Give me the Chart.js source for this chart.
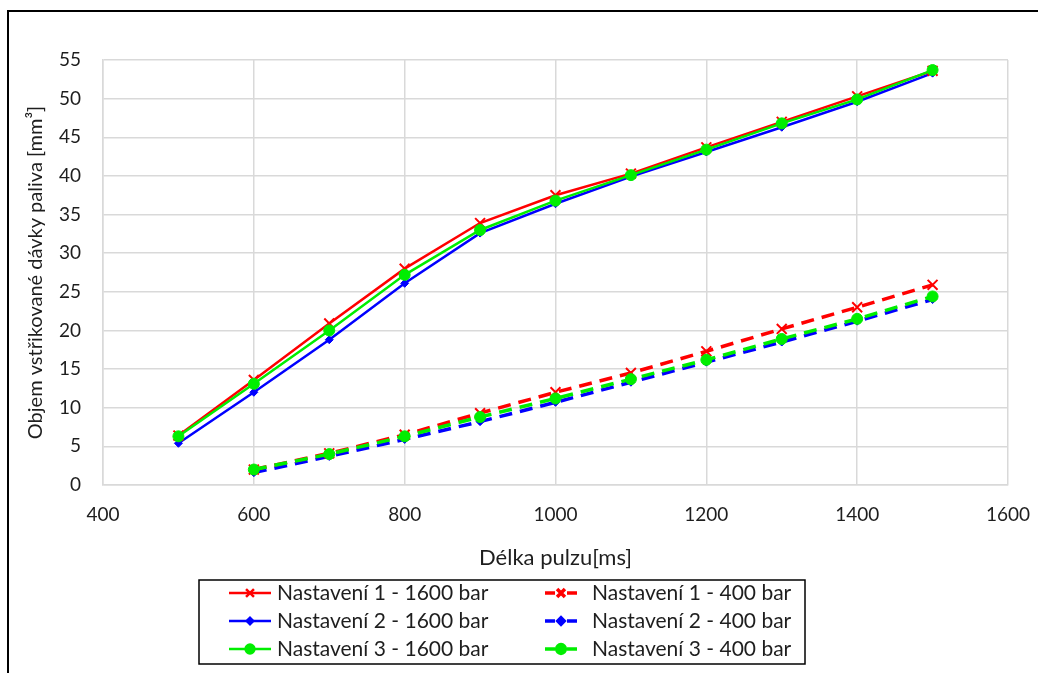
<!DOCTYPE html>
<html>
<head>
<meta charset="utf-8">
<script src="https://cdn.jsdelivr.net/npm/chart.js@4"></script>
<style>
  html, body { margin: 0; padding: 0; background: #fff; }
  canvas { display: block; }
</style>
</head>
<body>
<canvas id="davka-chart" width="1038" height="673"></canvas>
<script>
// pulse lengths [ms]
const pulse1600 = [500, 600, 700, 800, 900, 1000, 1100, 1200, 1300, 1400, 1500];
const pulse400 = [600, 700, 800, 900, 1000, 1100, 1200, 1300, 1400, 1500];

// injected volume [mm3], rail pressure 1600 bar
const nast1_1600 = [6.4, 13.6, 20.9, 28.0, 33.9, 37.5, 40.3, 43.7, 47.0, 50.3, 53.6];
const nast2_1600 = [5.4, 12.0, 18.8, 26.1, 32.6, 36.4, 39.9, 43.1, 46.3, 49.6, 53.3];
const nast3_1600 = [6.3, 13.1, 20.0, 27.2, 33.0, 36.8, 40.1, 43.4, 46.8, 49.9, 53.7];

// injected volume [mm3], rail pressure 400 bar
const nast1_400 = [2.0, 4.1, 6.5, 9.3, 12.0, 14.5, 17.3, 20.2, 23.0, 25.9];
const nast2_400 = [1.6, 3.7, 5.9, 8.2, 10.7, 13.3, 15.9, 18.5, 21.2, 24.0];
const nast3_400 = [2.0, 4.0, 6.3, 8.8, 11.2, 13.7, 16.2, 18.9, 21.5, 24.4];

const xTicks = [400, 600, 800, 1000, 1200, 1400, 1600];
const yTicks = [0, 5, 10, 15, 20, 25, 30, 35, 40, 45, 50, 55];

const RED = "#ff0000", BLUE = "#0000ff", GREEN = "#00ee00";
const FONT = "Lato";
const TEXT = "#1e1e1e";

function pts(xs, ys) {
  return xs.map((x, i) => ({ x: x, y: ys[i] }));
}

const markers = {
  cross:   { pointStyle: "crossRot", pointRadius: 7,   pointBorderWidth: 2 },
  diamond: { pointStyle: "rectRot",  pointRadius: 4,   pointBorderWidth: 1 },
  circle:  { pointStyle: "circle",   pointRadius: 5.5, pointBorderWidth: 1 }
};

function series(label, xs, ys, color, marker, dashed, order) {
  return Object.assign({
    label: label,
    data: pts(xs, ys),
    borderColor: color,
    backgroundColor: color,
    pointBackgroundColor: color,
    pointBorderColor: color,
    borderWidth: dashed ? 3.5 : 2.5,
    borderDash: dashed ? [13, 8] : [],
    tension: 0,
    order: order
  }, markers[marker]);
}

// outer frame of the figure
const framePlugin = {
  id: "frame",
  beforeDraw(chart) {
    const ctx = chart.ctx;
    ctx.save();
    ctx.strokeStyle = "#000";
    ctx.lineWidth = 2;
    ctx.beginPath();
    ctx.moveTo(8, chart.height);
    ctx.lineTo(8, 11);
    ctx.lineTo(chart.width, 11);
    ctx.stroke();
    ctx.restore();
  }
};

// boxed legend, two columns like the Excel one
const boxLegend = {
  id: "boxLegend",
  afterDraw(chart) {
    const ctx = chart.ctx;
    const box = { left: 199, top: 580, width: 606, height: 84 };
    const cols = [
      { sample: 30, len: 42, text: 78 },
      { sample: 346, len: 32, text: 393 }
    ];
    const rowTop = 13, rowH = 28;

    ctx.save();
    ctx.strokeStyle = "#000";
    ctx.lineWidth = 1.5;
    ctx.strokeRect(box.left, box.top, box.width, box.height);

    chart.data.datasets.forEach((ds, i) => {
      const col = cols[i % 2];
      const y = box.top + rowTop + Math.floor(i / 2) * rowH;
      const x0 = box.left + col.sample;
      const x1 = x0 + col.len;

      ctx.strokeStyle = ds.borderColor;
      ctx.fillStyle = ds.backgroundColor;
      ctx.lineWidth = ds.borderWidth;
      ctx.setLineDash(ds.borderDash.length ? [10, 12] : []);
      ctx.beginPath();
      ctx.moveTo(x0, y);
      ctx.lineTo(x1, y);
      ctx.stroke();
      ctx.setLineDash([]);

      Chart.helpers.drawPoint(ctx, {
        pointStyle: ds.pointStyle,
        radius: ds.pointRadius * 0.8,
        borderWidth: ds.pointBorderWidth,
        rotation: 0
      }, (x0 + x1) / 2, y);

      ctx.fillStyle = TEXT;
      ctx.font = "21px " + FONT;
      ctx.textBaseline = "middle";
      ctx.textAlign = "left";
      ctx.fillText(ds.label, box.left + col.text, y);
    });
    ctx.restore();
  }
};

const gridColor = "#d9d9d9";

new Chart(document.getElementById("davka-chart"), {
  type: "line",
  data: {
    datasets: [
      series("Nastavení 1 - 1600 bar", pulse1600, nast1_1600, RED, "cross", false, 1),
      series("Nastavení 1 - 400 bar", pulse400, nast1_400, RED, "cross", true, 1),
      series("Nastavení 2 - 1600 bar", pulse1600, nast2_1600, BLUE, "diamond", false, 2),
      series("Nastavení 2 - 400 bar", pulse400, nast2_400, BLUE, "diamond", true, 2),
      series("Nastavení 3 - 1600 bar", pulse1600, nast3_1600, GREEN, "circle", false, 0),
      series("Nastavení 3 - 400 bar", pulse400, nast3_400, GREEN, "circle", true, 0)
    ]
  },
  options: {
    responsive: false,
    animation: false,
    layout: { padding: { left: 10, top: 60, right: 30, bottom: 102 } },
    plugins: {
      legend: { display: false },
      tooltip: { enabled: false }
    },
    scales: {
      x: {
        type: "linear",
        min: xTicks[0],
        max: xTicks[xTicks.length - 1],
        afterBuildTicks: (scale) => { scale.ticks = xTicks.map(v => ({ value: v })); },
        afterFit: (scale) => { scale.height = 86; },
        grid: { color: gridColor, lineWidth: 1.5, drawTicks: false },
        border: { color: gridColor, width: 1.5 },
        // tall line height pushes the labels down without widening the side padding
        ticks: {
          padding: 0,
          color: TEXT,
          font: { family: FONT, size: 19, lineHeight: 3.15 },
          callback: (v) => String(v)
        },
        title: {
          display: true,
          text: "Délka pulzu[ms]",
          color: TEXT,
          padding: 0,
          font: { family: FONT, size: 22 }
        }
      },
      y: {
        min: yTicks[0],
        max: yTicks[yTicks.length - 1],
        afterBuildTicks: (scale) => { scale.ticks = yTicks.map(v => ({ value: v })); },
        afterFit: (scale) => { scale.width = 93; },
        grid: { color: gridColor, lineWidth: 1.5, drawTicks: false },
        border: { color: gridColor, width: 1.5 },
        ticks: { padding: 22, color: TEXT, font: { family: FONT, size: 19 } },
        title: {
          display: true,
          text: "Objem vstřikované dávky paliva [mm³]",
          color: TEXT,
          padding: { top: 14 },
          font: { family: FONT, size: 20 }
        }
      }
    }
  },
  plugins: [framePlugin, boxLegend]
});
</script>
</body>
</html>
